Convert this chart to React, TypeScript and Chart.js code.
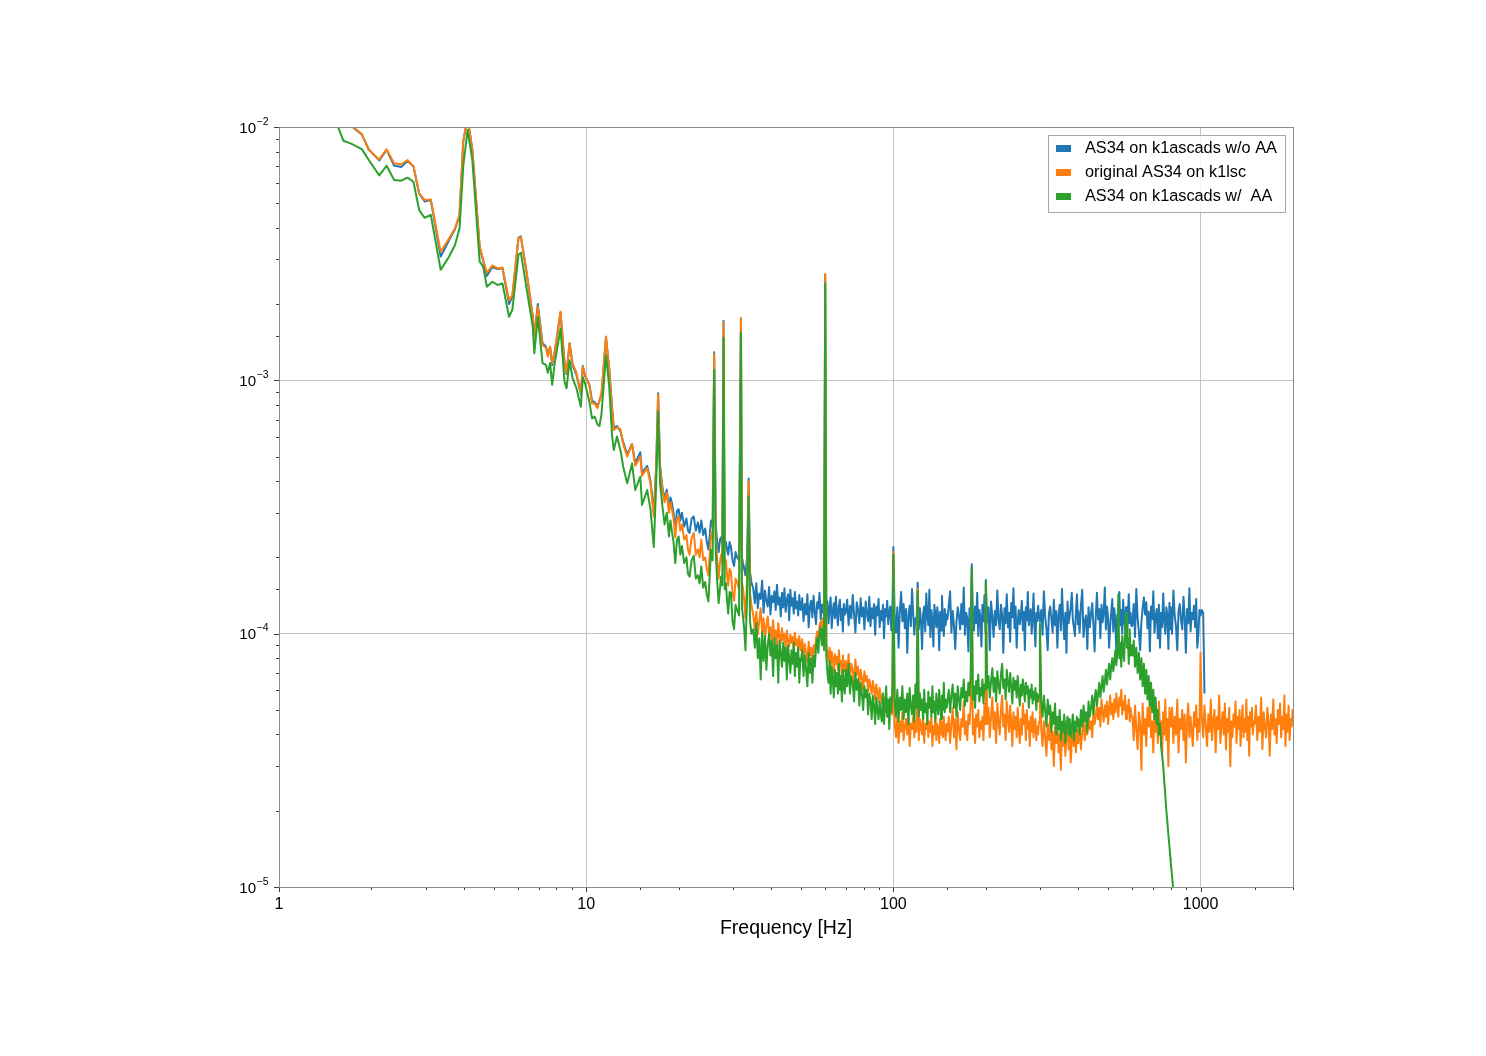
import { useEffect, useRef } from "react";
import { Chart, registerables } from "chart.js";
Chart.register(...registerables);

// amplitude values are written in units of 1e-6
const UNIT = 1e-6;

// frequency bins [Hz] below 35 Hz
const freqLow = [
  1.45, 1.62, 1.71, 1.86, 1.96, 2.12, 2.24, 2.37, 2.5, 2.62,
  2.74, 2.86, 2.98, 3.12, 3.36, 3.58, 3.74, 3.87, 3.98, 4.11,
  4.26, 4.5, 4.62, 4.75, 4.95, 5.14, 5.34, 5.61, 5.75, 6.02,
  6.13, 6.36, 6.7, 6.78, 6.96, 7.21, 7.4, 7.5, 7.63, 7.75,
  7.9, 8.25, 8.5, 8.63, 8.83, 9.03, 9.3, 9.61, 9.75, 9.92,
  10.25, 10.45, 10.65, 10.88, 11.05, 11.22, 11.6, 11.88, 12.15, 12.3,
  12.6, 12.93, 13.2, 13.6, 14.1, 14.45, 15, 15.2, 15.8, 16.2,
  16.6, 16.9, 17.15, 17.4, 17.7, 18, 18.3, 18.6, 18.8, 19,
  19.25, 19.5, 19.75, 20, 20.25, 20.5, 20.85, 21.2, 21.45, 21.7,
  22.05, 22.4, 22.75, 23.1, 23.4, 23.7, 24.05, 24.4, 24.7, 25,
  25.25, 25.5, 25.8, 26.1, 26.4, 26.7, 27, 27.25, 27.5, 27.75,
  28, 28.25, 28.5, 28.75, 29, 29.3, 29.6, 29.95, 30.3, 30.65,
  31, 31.45, 31.9, 32.15, 32.4, 32.7, 33, 33.4, 33.8, 34.15,
  34.5,
];

const blueLow = [
  15000, 11400, 10150, 9350, 8150, 7380, 8120, 7050, 6950, 7350,
  6980, 5450, 5080, 5150, 3080, 3580, 3950, 4480, 8800, 10900,
  8150, 3350, 2960, 2580, 2800, 2750, 2770, 2000, 2140, 3660,
  3700, 2800, 1800, 1500, 2000, 1400, 1360, 1260, 1350, 1150,
  1300, 1850, 1180, 1060, 1400, 1150, 1050, 880, 1140, 1040,
  960, 830, 820, 790, 830, 880, 1480, 1120, 780, 650,
  660, 630, 570, 510, 560, 470, 520, 430, 460, 400,
  300, 460, 890, 460, 380, 340, 370, 310, 345, 330,
  300, 260, 305, 310, 280, 300, 265, 285, 255, 250,
  285, 290, 255, 275, 250, 280, 245, 260, 230, 215,
  245, 280, 265, 1290, 270, 230, 210, 235, 240, 225,
  1720, 220, 230, 215, 205, 230, 220, 195, 185, 210,
  200, 195, 1760, 200, 190, 180, 170, 200, 410, 175,
  160,
];

const orangeLow = [
  15000, 11500, 10200, 9380, 8110, 7450, 8170, 7190, 7130, 7410,
  7010, 5470, 5150, 5180, 3220, 3640, 3980, 4500, 8800, 10900,
  8110, 3370, 3000, 2660, 2840, 2770, 2790, 2070, 2170, 3640,
  3670, 2810, 1780, 1490, 1950, 1380, 1340, 1240, 1360, 1170,
  1290, 1870, 1170, 1070, 1400, 1170, 1070, 890, 1130, 1050,
  950, 810, 810, 776, 836, 890, 1490, 1100, 760, 637,
  653, 640, 560, 500, 560, 460, 500, 420, 450, 390,
  290, 450, 880, 450, 370, 330, 360, 300, 330, 310,
  285, 240, 285, 290, 255, 270, 235, 245, 215, 205,
  240, 250, 205, 215, 200, 235, 195, 200, 180, 170,
  205, 250, 235, 1270, 250, 195, 165, 190, 205, 190,
  1700, 185, 195, 170, 155, 180, 175, 145, 135, 165,
  160, 150, 1760, 160, 150, 135, 115, 165, 399, 145,
  130,
];

const greenLow = [
  12500, 8830, 8620, 8180, 7410, 6440, 7030, 6180, 6140, 6310,
  6080, 4700, 4380, 4500, 2730, 3080, 3420, 3980, 7000, 9730,
  7410, 2940, 2810, 2340, 2450, 2380, 2410, 1780, 1900, 3130,
  3190, 2410, 1630, 1280, 1780, 1170, 1150, 1070, 1170, 960,
  1170, 1600, 990, 930, 1200, 1020, 930, 787, 1030, 970,
  820, 708, 720, 670, 660, 740, 1260, 950, 600, 531,
  600, 530, 456, 392, 470, 369, 417, 322, 369, 308,
  220, 390, 750, 392, 320, 270, 300, 242, 280, 255,
  230, 190, 235, 242, 205, 222, 190, 200, 172, 168,
  195, 203, 165, 170, 158, 184, 152, 160, 142, 134,
  170, 214, 195, 1100, 214, 160, 132, 150, 168, 155,
  1470, 150, 158, 135, 120, 146, 145, 112, 104, 130,
  124, 118, 1540, 126, 117, 104, 86, 140, 348, 112,
  100,
];

// frequency bins [Hz] from 35 Hz up to 2 kHz
const freqHigh = [
  // 35 - 50
  35, 35.4, 35.8, 36.2, 36.6, 37, 37.4, 37.8, 38.2, 38.6,
  39, 39.4, 39.8, 40.2, 40.6, 41, 41.4, 41.8, 42.2, 42.6,
  43, 43.4, 43.8, 44.2, 44.6, 45, 45.4, 45.8, 46.2, 46.6,
  47, 47.4, 47.8, 48.2, 48.6, 49, 49.4, 49.8,
  // 50 - 70
  50, 50.5, 51, 51.5, 52, 52.5, 53, 53.5, 54, 54.5,
  55, 55.5, 56, 56.5, 57, 57.5, 58, 58.5, 59, 59.5,
  60, 60.5, 61, 61.5, 62, 62.5, 63, 63.5, 64, 64.5,
  65, 65.5, 66, 66.5, 67, 67.5, 68, 68.5, 69, 69.5,
  // 70 - 100
  70, 70.75, 71.5, 72.25, 73, 73.75, 74.5, 75.25, 76, 76.75,
  77.5, 78.25, 79, 79.75, 80.5, 81.25, 82, 82.75, 83.5, 84.25,
  85, 85.75, 86.5, 87.25, 88, 88.75, 89.5, 90.25, 91, 91.75,
  92.5, 93.25, 94, 94.75, 95.5, 96.25, 97, 97.75, 98.5, 99.25,
  // 100 - 150
  100, 101, 102, 103, 104, 105, 106, 107, 108, 109,
  110, 111, 112, 113, 114, 115, 116, 117, 118, 119,
  120, 121, 122, 123, 124, 125, 126, 127, 128, 129,
  130, 131, 132, 133, 134, 135, 136, 137, 138, 139,
  140, 141, 142, 143, 144, 145, 146, 147, 148, 149,
  // 150 - 200
  150, 151.5, 153, 154.5, 156, 157.5, 159, 160.5, 162, 163.5,
  165, 166.5, 168, 169.5, 171, 172.5, 174, 175.5, 177, 178.5,
  180, 181.5, 183, 184.5, 186, 187.5, 189, 190.5, 192, 193.5,
  195, 196.5, 198, 199.5,
  // 200 - 300
  200, 202, 204, 206, 208, 210, 212, 214, 216, 218,
  220, 222, 224, 226, 228, 230, 232, 234, 236, 238,
  240, 242, 244, 246, 248, 250, 252, 254, 256, 258,
  260, 262, 264, 266, 268, 270, 272, 274, 276, 278,
  280, 282, 284, 286, 288, 290, 292, 294, 296, 298,
  // 300 - 400
  300, 303, 306, 309, 312, 315, 318, 321, 324, 327,
  330, 333, 336, 339, 342, 345, 348, 351, 354, 357,
  360, 363, 366, 369, 372, 375, 378, 381, 384, 387,
  390, 393, 396, 399,
  // 400 - 600
  400, 404, 408, 412, 416, 420, 424, 428, 432, 436,
  440, 444, 448, 452, 456, 460, 464, 468, 472, 476,
  480, 484, 488, 492, 496, 500, 504, 508, 512, 516,
  520, 524, 528, 532, 536, 540, 544, 548, 552, 556,
  560, 564, 568, 572, 576, 580, 584, 588, 592, 596,
  // 600 - 800
  600, 606, 612, 618, 624, 630, 636, 642, 648, 654,
  660, 666, 672, 678, 684, 690, 696, 702, 708, 714,
  720, 726, 732, 738, 744, 750, 756, 762, 768, 774,
  780, 786, 792, 798,
  // 800 - 1000
  800, 808, 816, 824, 832, 840, 848, 856, 864, 872,
  880, 888, 896, 904, 912, 920, 928, 936, 944, 952,
  960, 968, 976, 984, 992,
  // 1000 - 1500
  1000, 1010, 1020, 1030, 1040, 1050, 1060, 1070, 1080, 1090,
  1100, 1110, 1120, 1130, 1140, 1150, 1160, 1170, 1180, 1190,
  1200, 1210, 1220, 1230, 1240, 1250, 1260, 1270, 1280, 1290,
  1300, 1310, 1320, 1330, 1340, 1350, 1360, 1370, 1380, 1390,
  1400, 1410, 1420, 1430, 1440, 1450, 1460, 1470, 1480, 1490,
  // 1500 - 2000
  1500, 1515, 1530, 1545, 1560, 1575, 1590, 1605, 1620, 1635,
  1650, 1665, 1680, 1695, 1710, 1725, 1740, 1755, 1770, 1785,
  1800, 1815, 1830, 1845, 1860, 1875, 1890, 1905, 1920, 1935,
  1950, 1965, 1980, 1995, 2000,
];

// each high-band series stops where its trace ends
const blueHigh = [
  150, 132, 158, 126, 144, 137, 162, 121, 148, 135,
  128, 153, 119, 141, 133, 147, 124, 156, 130, 139,
  117, 145, 127, 151, 122, 136, 143, 113, 149, 129,
  138, 120, 146, 126, 134, 118, 142, 125,
  124, 138, 112, 131, 119, 143, 106, 128, 135, 116,
  141, 122, 109, 133, 126, 145, 114, 130, 121, 137,
  2600, 118, 134, 110, 127, 139, 105, 123, 132, 115,
  140, 120, 108, 129, 136, 113, 125, 102, 131, 119,
  121, 136, 108, 129, 115, 142, 119, 101, 133, 124,
  110, 138, 117, 127, 104, 134, 120, 112, 140, 107,
  126, 115, 131, 99, 128, 118, 137, 106, 123, 113,
  130, 96, 125, 117, 135, 109, 122, 128, 103, 119,
  220, 116, 101, 127, 88, 123, 146, 112, 131, 105,
  125, 84, 118, 129, 107, 150, 121, 99, 115, 110,
  159, 104, 126, 113, 87, 120, 128, 102, 144, 117,
  108, 149, 97, 124, 114, 89, 130, 119, 106, 127,
  116, 86, 122, 103, 141, 111, 98, 125, 108, 119,
  114, 129, 147, 101, 123, 108, 87, 111, 127, 118,
  104, 131, 109, 152, 99, 121, 115, 85, 126, 112,
  188, 120, 103, 128, 110, 145, 98, 124, 116, 89,
  130, 112, 142, 101,
  163, 111, 127, 86, 134, 117, 97, 123, 108, 148,
  114, 104, 130, 119, 84, 126, 110, 143, 106, 121,
  93, 132, 116, 151, 105, 128, 88, 112, 124, 109,
  118, 135, 103, 122, 86, 127, 113, 146, 108, 119,
  125, 100, 116, 144, 107, 89, 121, 112, 129, 117,
  112, 124, 99, 147, 117, 105, 86, 120, 128, 114,
  101, 136, 108, 123, 88, 119, 130, 103, 150, 115,
  95, 121, 84, 134, 110, 118, 127, 145, 113, 106,
  98, 122, 143, 109,
  123, 101, 129, 149, 97, 112, 118, 87, 127, 106,
  120, 132, 109, 85, 117, 145, 114, 125, 96, 130,
  111, 122, 152, 104, 128, 116, 88, 107, 121, 137,
  102, 126, 113, 84, 119, 112, 146, 108, 124, 100,
  136, 115, 105, 127, 89, 118, 143, 110, 121, 107,
  108, 131, 97, 150, 115, 102, 86, 111, 126, 139,
  119, 133, 105, 122, 85, 128, 114, 147, 101, 117,
  125, 96, 130, 88, 121, 106, 144, 113, 100, 127,
  118, 87, 132, 104,
  127, 100, 148, 118, 107, 86, 123, 131, 113, 104,
  140, 116, 84, 125, 110, 151, 102, 121, 114, 129,
  106, 137, 88, 99, 124,
  118, 124, 121, 58,
];

const orangeHigh = [
  118, 104, 122, 99, 112, 126, 101, 115, 95, 108,
  117, 98, 106, 91, 113, 95, 103, 88, 110, 97,
  92, 105, 94, 100, 87, 103, 93, 89, 99, 92,
  97, 86, 101, 90, 95, 85, 98, 89,
  86, 95, 80, 91, 84, 77, 93, 82, 88, 79,
  90, 84, 96, 102, 94, 108, 112, 100, 115, 98,
  2630, 92, 84, 78, 88, 73, 85, 79, 70, 83,
  76, 81, 72, 86, 74, 78, 69, 82, 75, 71,
  78, 70, 83, 67, 76, 72, 64, 79, 69, 74,
  63, 72, 67, 60, 71, 65, 68, 59, 66, 62,
  58, 65, 61, 55, 63, 59, 54, 61, 56, 53,
  58, 51, 56, 49, 55, 52, 47, 54, 50, 48,
  210, 44, 39, 47, 37, 45, 41, 49, 38, 43,
  46, 40, 48, 36, 44, 42, 47, 39, 45, 41,
  150, 38, 46, 43, 40, 48, 37, 44, 42, 46,
  39, 45, 41, 47, 36, 43, 40, 48, 38, 44,
  42, 37, 46, 40, 45, 39, 47, 41, 38, 44,
  41, 47, 37, 44, 51, 39, 46, 35, 49, 42,
  38, 46, 43, 54, 40, 45, 38, 48, 44, 52,
  170, 40, 46, 37, 48, 43, 50, 39, 45, 42,
  47, 38, 53, 44,
  155, 44, 51, 39, 47, 56, 42, 49, 37, 53,
  45, 40, 50, 57, 43, 48, 38, 54, 46, 41,
  52, 44, 36, 49, 42, 47, 39, 51, 43, 37,
  46, 40, 53, 44, 48, 38, 50, 42, 45, 36,
  47, 41, 49, 39, 44, 46, 38, 43, 40, 45,
  105, 42, 36, 45, 39, 33, 44, 38, 47, 35,
  41, 30, 43, 37, 46, 34, 40, 29, 42, 36,
  44, 33, 39, 45, 35, 41, 31, 38, 43, 36,
  40, 34, 42, 37,
  37, 43, 35, 41, 46, 38, 44, 40, 48, 42,
  45, 39, 50, 44, 47, 53, 46, 51, 43, 55,
  49, 45, 52, 47, 54, 44, 50, 57, 48, 53,
  46, 55, 49, 58, 51, 47, 56, 52, 60, 48,
  54, 50, 57, 46, 52, 49, 55, 45, 51, 47,
  47, 38, 52, 42, 35, 49, 44, 29, 53, 40,
  46, 36, 51, 43, 56, 39, 45, 34, 50, 41,
  47, 37, 54, 42, 45, 33, 49, 40, 55, 38,
  46, 30, 51, 43,
  44, 51, 37, 47, 40, 55, 34, 46, 42, 50,
  38, 48, 31, 45, 53, 39, 47, 41, 36, 49,
  43, 52, 38, 46, 41,
  84, 46, 39, 52, 43, 36, 48, 41, 55, 38,
  45, 50, 34, 47, 42, 57, 37, 44, 49, 40,
  53, 35, 46, 41, 51, 30, 45, 39, 48, 43,
  54, 37, 47, 42, 50, 36, 44, 52, 39, 46,
  41, 55, 38, 47, 33, 49, 43, 51, 40, 45,
  44, 52, 38, 47, 41, 56, 35, 49, 43, 39,
  51, 45, 33, 48, 42, 55, 40, 46, 37, 50,
  44, 53, 39, 47, 42, 57, 36, 48, 41, 52,
  38, 46, 43, 50, 45,
];

const greenHigh = [
  104, 88, 110, 80, 96, 66, 102, 78, 98, 72,
  90, 100, 82, 94, 68, 96, 80, 90, 64, 94,
  84, 74, 92, 78, 88, 66, 90, 80, 70, 86,
  76, 92, 68, 84, 74, 88, 64, 80,
  78, 86, 68, 82, 72, 62, 84, 70, 80, 64,
  82, 74, 88, 96, 84, 100, 106, 90, 104, 86,
  2410, 82, 70, 64, 78, 58, 74, 66, 56, 72,
  62, 70, 58, 76, 60, 68, 54, 72, 62, 58,
  72, 62, 76, 58, 68, 64, 54, 70, 60, 66,
  52, 64, 58, 50, 62, 56, 60, 48, 58, 54,
  46, 57, 52, 44, 56, 50, 46, 54, 48, 45,
  58, 44, 52, 62, 47, 55, 42, 56, 49, 60,
  205, 54, 47, 60, 45, 56, 50, 62, 46, 55,
  49, 58, 44, 61, 52, 48, 57, 45, 63, 51,
  147, 47, 58, 50, 55, 46, 60, 49, 53, 44,
  59, 51, 56, 47, 62, 49, 54, 45, 58, 52,
  48, 60, 53, 46, 57, 50, 64, 49, 55, 51,
  54, 60, 49, 57, 63, 51, 58, 47, 62, 55,
  50, 61, 56, 66, 52, 59, 54, 64, 57, 68,
  182, 55, 62, 51, 65, 58, 69, 54, 61, 57,
  66, 53, 63, 60,
  161, 61, 68, 56, 65, 73, 59, 67, 54, 71,
  63, 58, 69, 76, 61, 66, 55, 72, 64, 59,
  70, 62, 53, 67, 60, 65, 56, 68, 59, 52,
  63, 57, 66, 60, 54, 64, 58, 62, 51, 60,
  56, 63, 53, 59, 55, 61, 50, 58, 54, 57,
  110, 54, 47, 57, 50, 43, 55, 48, 52, 41,
  49, 44, 53, 40, 47, 42, 50, 38, 45, 41,
  48, 37, 44, 47, 40, 46, 39, 43, 48, 38,
  45, 41, 47, 43,
  46, 40, 50, 43, 52, 45, 49, 41, 54, 47,
  51, 57, 48, 55, 60, 52, 58, 64, 56, 62,
  68, 59, 65, 72, 63, 70, 76, 66, 74, 80,
  71, 78, 86, 75, 84, 143, 80, 92, 74, 98,
  85, 78, 102, 121, 88, 96, 76, 104, 82, 90,
  82, 94, 74, 88, 70, 84, 66, 80, 62, 76,
  58, 72, 55, 68, 52, 64, 49, 60, 46, 56,
  44, 50, 40, 44, 36, 33, 30, 26, 23, 20,
  18, 16, 14.5, 13,
  12.5, 11, 9.6, 8.4, 7.3,
];

const seriesLabels = [
  "AS34 on k1ascads w/o AA",
  "original AS34 on k1lsc",
  "AS34 on k1ascads w/  AA",
];
const seriesColors = ["#1f77b4", "#ff7f0e", "#2ca02c"];

const xTickLabels = ["1", "10", "100", "1000"];
// exponents of the y decade labels 10^-5 ... 10^-2
const yTickExponents = ["\u22125", "\u22124", "\u22123", "\u22122"];

const FONT = '"Liberation Sans", Arial, Helvetica, sans-serif';

const isDecade = (v: number) => {
  const l = Math.log10(v);
  return Math.abs(l - Math.round(l)) < 1e-6;
};

const toPoints = (fLow: number[], vLow: number[], fHigh: number[], vHigh: number[]) => [
  ...fLow.map((f, i) => ({ x: f, y: vLow[i] * UNIT })),
  ...vHigh.map((v, i) => ({ x: fHigh[i], y: v * UNIT })),
];

// spines, outward tick marks, y labels with superscripts and the boxed legend
const framePlugin = {
  id: "frame",
  afterDatasetsDraw(chart: Chart) {
    const { ctx, chartArea: a } = chart;
    const xs = chart.scales.x;
    const ys = chart.scales.y;
    ctx.save();
    ctx.lineWidth = 1;
    ctx.strokeStyle = "#3c3c3c";
    ctx.beginPath();
    xs.ticks.forEach((t) => {
      const px = Math.round(xs.getPixelForValue(t.value)) + 0.5;
      const len = isDecade(t.value) ? 5 : 3;
      ctx.moveTo(px, a.bottom);
      ctx.lineTo(px, a.bottom + len);
    });
    ys.ticks.forEach((t) => {
      const py = Math.round(ys.getPixelForValue(t.value)) + 0.5;
      const len = isDecade(t.value) ? 5 : 3;
      ctx.moveTo(a.left, py);
      ctx.lineTo(a.left - len, py);
    });
    ctx.stroke();
    ctx.strokeStyle = "#8c8c8c";
    ctx.strokeRect(
      Math.round(a.left) + 0.5,
      Math.round(a.top) + 0.5,
      Math.round(a.right - a.left),
      Math.round(a.bottom - a.top),
    );

    // y decade labels: "10" plus a raised exponent
    ctx.fillStyle = "#000";
    ctx.textBaseline = "alphabetic";
    ctx.textAlign = "left";
    ys.ticks.forEach((t) => {
      if (!isDecade(t.value)) return;
      const exp = yTickExponents[Math.round(Math.log10(t.value)) + 5];
      const py = ys.getPixelForValue(t.value);
      ctx.font = `10.5px ${FONT}`;
      const wSup = ctx.measureText(exp).width;
      ctx.font = `15px ${FONT}`;
      const wBase = ctx.measureText("10").width;
      const right = a.left - 11;
      const x0 = right - wSup - wBase;
      ctx.fillText("10", x0, py + 5.5);
      ctx.font = `10.5px ${FONT}`;
      ctx.fillText(exp, x0 + wBase + 0.5, py - 2.5);
    });
    ctx.restore();
  },
  afterDraw(chart: Chart) {
    const { ctx, chartArea: a } = chart;
    const w = 237;
    const h = 77;
    const x0 = Math.round(a.right) - 8 - w;
    const y0 = Math.round(a.top) + 8;
    ctx.save();
    ctx.fillStyle = "rgba(255,255,255,0.8)";
    ctx.fillRect(x0, y0, w, h);
    ctx.strokeStyle = "#a8a8a8";
    ctx.lineWidth = 1;
    ctx.strokeRect(x0 + 0.5, y0 + 0.5, w, h);
    ctx.font = `16.3px ${FONT}`;
    ctx.textBaseline = "middle";
    ctx.textAlign = "left";
    seriesLabels.forEach((label, i) => {
      const cy = y0 + 13.5 + i * 24;
      ctx.fillStyle = seriesColors[i];
      ctx.fillRect(x0 + 8, cy - 3.5, 15, 7);
      ctx.fillStyle = "#000";
      ctx.fillText(label, x0 + 37, cy);
    });
    ctx.restore();
  },
};

const App = () => {
  const canvasRef = useRef<HTMLCanvasElement>(null);
  const chartRef = useRef<Chart | null>(null);

  useEffect(() => {
    if (!canvasRef.current) return;
    if (chartRef.current) chartRef.current.destroy();

    const series = [
      toPoints(freqLow, blueLow, freqHigh, blueHigh),
      toPoints(freqLow, orangeLow, freqHigh, orangeHigh),
      toPoints(freqLow, greenLow, freqHigh, greenHigh),
    ];

    const gridColor = (c: any) => (c.tick && isDecade(c.tick.value) ? "#c4c4c4" : "rgba(0,0,0,0)");

    chartRef.current = new Chart(canvasRef.current, {
      type: "line",
      data: {
        datasets: series.map((data, i) => ({
          label: seriesLabels[i],
          data,
          borderColor: seriesColors[i],
          backgroundColor: seriesColors[i],
          borderWidth: 2,
          pointRadius: 0,
          tension: 0,
          fill: false,
          borderJoinStyle: "round" as const,
          order: 3 - i,
        })),
      },
      options: {
        animation: false,
        responsive: true,
        maintainAspectRatio: false,
        layout: { padding: { left: 0, top: 127, right: 193, bottom: 116 } },
        plugins: {
          legend: { display: false },
          tooltip: { enabled: false },
        },
        scales: {
          x: {
            type: "logarithmic",
            min: 1,
            max: 2000,
            border: { display: false },
            grid: { drawTicks: false, lineWidth: 1, color: gridColor },
            ticks: {
              autoSkip: false,
              maxRotation: 0,
              padding: 8,
              color: "#000",
              font: { family: FONT, size: 16 },
              callback: (v: any) =>
                isDecade(Number(v)) ? xTickLabels[Math.round(Math.log10(Number(v)))] : "",
            },
            title: {
              display: true,
              text: "Frequency [Hz]",
              color: "#000",
              font: { family: FONT, size: 19.5 },
              padding: { top: 0, bottom: 0 },
            },
            afterFit: (s: any) => {
              s.height = 53;
            },
          },
          y: {
            type: "logarithmic",
            min: 1e-5,
            max: 1e-2,
            border: { display: false },
            grid: { drawTicks: false, lineWidth: 1, color: gridColor },
            ticks: {
              autoSkip: false,
              padding: 11,
              callback: () => "",
            },
            afterFit: (s: any) => {
              s.width = 279;
            },
          },
        },
      },
      plugins: [framePlugin],
    });

    return () => {
      chartRef.current?.destroy();
      chartRef.current = null;
    };
  }, []);

  return (
    <div style={{ position: "absolute", left: 0, top: 0, width: 1486, height: 1056, background: "#fff" }}>
      <canvas ref={canvasRef} />
    </div>
  );
};

export default App;
